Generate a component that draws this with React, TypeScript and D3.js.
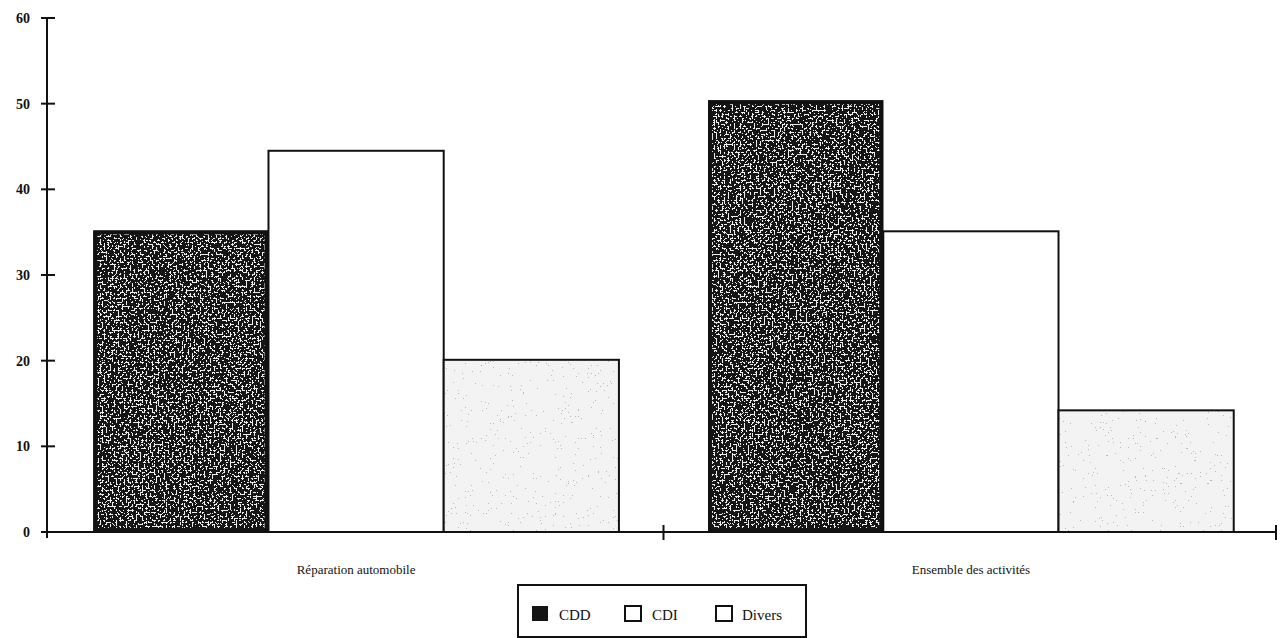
import React from 'react';
import * as d3 from 'd3';

const categories = ['Réparation automobile', 'Ensemble des activités'];
const seriesNames = ['CDD', 'CDI', 'Divers'];
const cddValues = [35.2, 50.4];
const cdiValues = [44.5, 35.1];
const diversValues = [20.1, 14.2];
const yTickValues = [0, 10, 20, 30, 40, 50, 60];

const W = 1281;
const H = 638;

export default function App() {
  const y = d3.scaleLinear().domain([0, 60]).range([532, 18]);
  const x0 = d3.scaleBand<string>()
    .domain(categories)
    .range([49, 1278])
    .paddingInner(0.145)
    .paddingOuter(0.072);
  const x1 = d3.scaleBand<string>()
    .domain(seriesNames)
    .range([0, x0.bandwidth()])
    .padding(0);

  const seriesValues: Record<string, number[]> = {
    CDD: cddValues,
    CDI: cdiValues,
    Divers: diversValues
  };

  const axisX0 = 47;
  const axisX1 = 1276;
  const baseY = y(0);
  const midTick = (x0(categories[0])! + x0.bandwidth() + x0(categories[1])!) / 2;

  // draw one bar according to its series style
  const renderBar = (s: string, i: number) => {
    const v = seriesValues[s][i];
    const bx = x0(categories[i])! + x1(s)!;
    const by = y(v);
    const bw = x1.bandwidth();
    const bh = baseY - by;
    if (s === 'CDD') {
      return (
        <g key={s + i}>
          <rect x={bx} y={by} width={bw} height={bh} fill="#151515" />
          <rect x={bx + 4} y={by + 4} width={bw - 8} height={bh - 8} fill="#000" filter="url(#speckWhite)" />
          <rect x={bx + 1.5} y={by + 1.5} width={bw - 3} height={bh - 3} fill="none" stroke="#111" strokeWidth={3} />
        </g>
      );
    }
    if (s === 'CDI') {
      return (
        <rect key={s + i} x={bx} y={by} width={bw} height={bh} fill="#fff" stroke="#111" strokeWidth={2} />
      );
    }
    return (
      <g key={s + i}>
        <rect x={bx} y={by} width={bw} height={bh} fill="#f3f3f3" />
        <rect x={bx} y={by} width={bw} height={bh} fill="#000" filter="url(#speckDark)" />
        <rect x={bx} y={by} width={bw} height={bh} fill="none" stroke="#111" strokeWidth={2} />
      </g>
    );
  };

  const legendItems = [
    { name: 'CDD', sx: 532, tx: 559 },
    { name: 'CDI', sx: 625, tx: 652 },
    { name: 'Divers', sx: 716, tx: 742 }
  ];

  return (
    <svg width={W} height={H} style={{ position: 'absolute', left: 0, top: 0, background: '#fff' }}>
      <defs>
        <filter id="speckWhite" x="0" y="0" width="100%" height="100%">
          <feTurbulence type="fractalNoise" baseFrequency="0.5" numOctaves={2} seed={4} result="noise" />
          <feColorMatrix in="noise" type="matrix"
            values="0 0 0 0 0.85  0 0 0 0 0.85  0 0 0 0 0.85  1 0 0 0 0" result="a" />
          <feComponentTransfer in="a" result="t">
            <feFuncA type="discrete" tableValues="0 0 0 0 0 1 1 1 1" />
          </feComponentTransfer>
          <feComposite in="t" in2="SourceAlpha" operator="in" />
        </filter>
        <filter id="speckDark" x="0" y="0" width="100%" height="100%">
          <feTurbulence type="fractalNoise" baseFrequency="0.6" numOctaves={2} seed={9} result="noise" />
          <feColorMatrix in="noise" type="matrix"
            values="0 0 0 0 0.3  0 0 0 0 0.3  0 0 0 0 0.3  1 0 0 0 0" result="a" />
          <feComponentTransfer in="a" result="t">
            <feFuncA type="discrete" tableValues="0 0 0 0 0 0 0.6 0.9" />
          </feComponentTransfer>
          <feComposite in="t" in2="SourceAlpha" operator="in" />
        </filter>
      </defs>

      {/* bars */}
      {categories.map((c, i) => seriesNames.map(s => renderBar(s, i)))}

      {/* y axis */}
      <line x1={axisX0} x2={axisX0} y1={y(60)} y2={baseY + 6} stroke="#111" strokeWidth={2} />
      {yTickValues.map(t => (
        <g key={t}>
          <line x1={axisX0 - 6} x2={axisX0 + 8} y1={y(t)} y2={y(t)} stroke="#111" strokeWidth={2} />
          <text x={30} y={y(t) + 5} textAnchor="end" fontFamily="Liberation Serif, serif"
            fontWeight="bold" fontSize={14} fill="#111">{t}</text>
        </g>
      ))}

      {/* x axis */}
      <line x1={axisX0} x2={axisX1} y1={baseY} y2={baseY} stroke="#111" strokeWidth={2} />
      {[midTick, axisX1].map((tx, k) => (
        <line key={k} x1={tx} x2={tx} y1={baseY - 7} y2={baseY + 8} stroke="#111" strokeWidth={2} />
      ))}
      {categories.map(c => (
        <text key={c} x={x0(c)! + x0.bandwidth() / 2} y={574} textAnchor="middle"
          fontFamily="Liberation Serif, serif" fontSize={13} fill="#111">{c}</text>
      ))}

      {/* legend */}
      <rect x={518} y={585} width={288} height={52} fill="#fff" stroke="#111" strokeWidth={2} />
      {legendItems.map(it => (
        <g key={it.name}>
          {it.name === 'CDD' ? (
            <rect x={it.sx} y={606} width={16} height={15} fill="#151515" />
          ) : (
            <rect x={it.sx} y={606} width={16} height={15} fill="#fff" stroke="#111" strokeWidth={2} />
          )}
          <text x={it.tx} y={620} fontFamily="Liberation Serif, serif" fontSize={15} fill="#111">{it.name}</text>
        </g>
      ))}
    </svg>
  );
}
